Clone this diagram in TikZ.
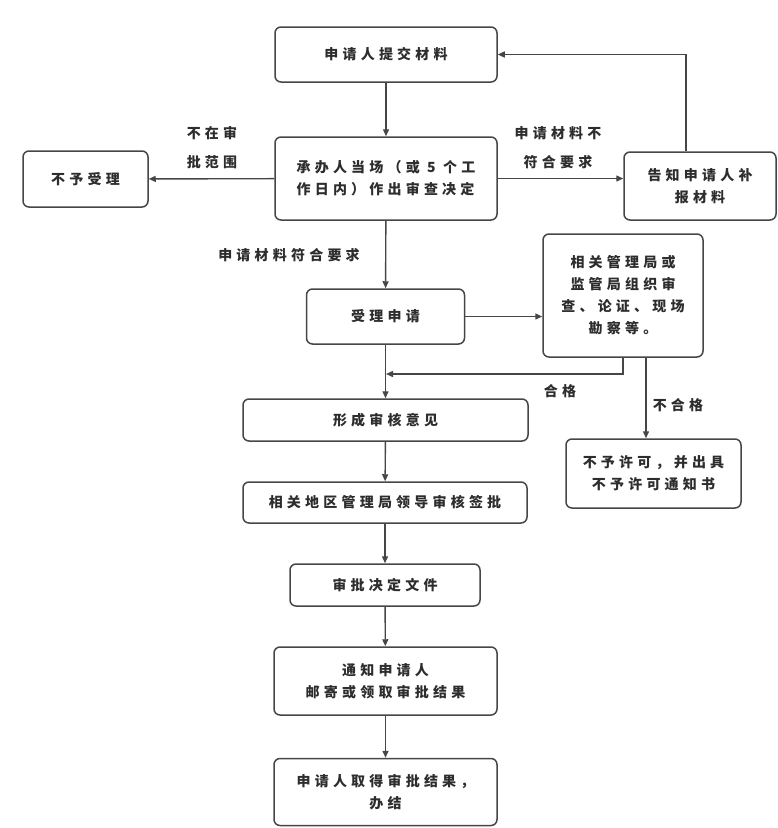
\documentclass[tikz,border=0pt]{standalone}
\usepackage{fontspec}
\usetikzlibrary{arrows.meta, positioning}
\newfontfamily\cjk[LetterSpace=30]{Noto Sans CJK SC}
\definecolor{linegray}{RGB}{70,70,70}
\definecolor{textgray}{RGB}{45,45,45}

\begin{document}
\begin{tikzpicture}[
    x=1pt, y=-1pt,
    box/.style={
        rectangle, draw=linegray, line width=1.5pt, fill=white,
        rounded corners=6pt, align=center, inner sep=2pt,
        font=\fontsize{14}{22}\selectfont\cjk\bfseries, text=textgray
    },
    arrow/.style={
        -{Triangle[length=7pt, width=6pt]},
        line width=1.4pt, color=linegray
    },
    lbl/.style={font=\fontsize{14}{29}\selectfont\cjk\bfseries, text=textgray,
        align=center, inner sep=1pt}
]
\useasboundingbox (0,0) rectangle (778,828);

%% -- Main column ------------------------------------------------------------
\node[box, minimum width=222pt, minimum height=55pt] (submit)  at (386, 54.5) {申请人提交材料};
\node[box, minimum width=222pt, minimum height=83pt, align=left] (decide) at (386, 178.5)
    {承办人当场（或 5 个工\\作日内）作出审查决定};
\node[box, minimum width=158pt, minimum height=55pt] (accept)  at (385.5, 316.5) {受理申请};
\node[box, minimum width=285pt, minimum height=42pt] (opinion) at (385.5, 420) {形成审核意见};
\node[box, minimum width=284pt, minimum height=41pt] (sign)    at (385, 502.5) {相关地区管理局领导审核签批};
\node[box, minimum width=190pt, minimum height=42pt] (document) at (385, 585) {审批决定文件};
\node[box, minimum width=223pt, minimum height=68pt] (inform)  at (385.5, 681) {通知申请人\\邮寄或领取审批结果};
\node[box, minimum width=223pt, minimum height=67pt] (finish)  at (385.5, 792) {申请人取得审批结果，\\办结};

%% -- Side boxes -------------------------------------------------------------
\node[box, minimum width=125pt, minimum height=56pt] (refuse) at (85.5, 179) {不予受理};
\node[box, minimum width=152pt, minimum height=68pt] (supplement) at (700, 186) {告知申请人补\\报材料};
\node[box, minimum width=160pt, minimum height=123pt] (review) at (623, 295.5)
    {相关管理局或\\监管局组织审\\查、论证、现场\\勘察等。};
\node[box, minimum width=175pt, minimum height=69pt] (deny) at (653.5, 473.5)
    {不予许可，并出具\\不予许可通知书};

\coordinate (merge) at (386, 374);

%% -- Arrows -----------------------------------------------------------------
\draw[arrow] (submit) -- (decide);
\draw[arrow] (decide) -- (refuse);
\draw[arrow] (decide) -- (decide -| supplement.west);
\draw[arrow] ([xshift=-14pt]supplement.north) |- (submit.east);
\draw[arrow] (decide) -- (accept);
\draw[arrow] (accept) -- (accept -| review.west);
\draw[arrow] (review.south) |- (merge);
\draw[arrow] (accept) -- (opinion);
\draw[arrow] ([xshift=23pt]review.south) -- ([xshift=23pt]review.south |- deny.north);
\draw[arrow] (opinion)  -- (sign);
\draw[arrow] (sign)     -- (document);
\draw[arrow] (document) -- (inform);
\draw[arrow] (inform)   -- (finish);

%% -- Labels -----------------------------------------------------------------
\node[lbl] (outscope) at (212, 148) {不在审\\批范围};
\node[lbl] (incomplete) at (558, 148) {申请材料不\\符合要求};
\node[lbl] (complete) at (289, 255) {申请材料符合要求};
\node[lbl] (pass) at (560, 391) {合格};
\node[lbl] (fail) at (678, 405) {不合格};

\end{tikzpicture}
\end{document}
